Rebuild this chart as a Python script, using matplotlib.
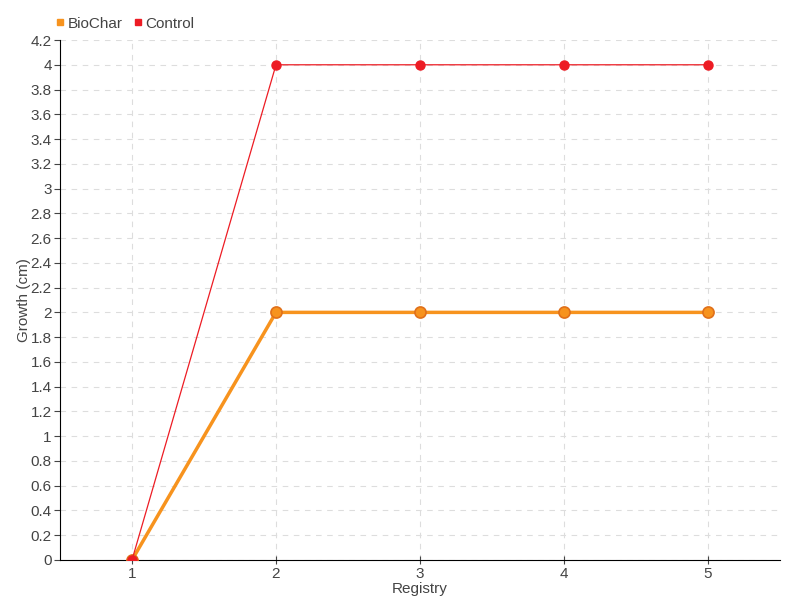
import matplotlib
matplotlib.use("Agg")
from matplotlib import pyplot as plt
from matplotlib.lines import Line2D

plt.rcParams['font.family'] = ['Liberation Sans', 'DejaVu Sans']

registry = [1, 2, 3, 4, 5]
biochar = [0, 2, 2, 2, 2]
control = [0, 4, 4, 4, 4]
yticks = [0, 0.2, 0.4, 0.6, 0.8, 1, 1.2, 1.4, 1.6, 1.8, 2, 2.2, 2.4, 2.6, 2.8,
          3, 3.2, 3.4, 3.6, 3.8, 4, 4.2]

orange = '#f7931e'
red = '#ed1c24'

fig = plt.figure(figsize=(8, 6), dpi=100)
ax = fig.add_axes([0.075, 0.0667, 0.9, 0.8666])

ax.plot(registry, biochar, '-', color=orange, lw=2.5, marker='o', ms=8,
        mfc=orange, mec='#e0701a', mew=1.2, zorder=3)
ax.plot(registry, control, '-', color=red, lw=0.9, marker='o', ms=6.5,
        mfc=red, mec=red, zorder=4)

ax.set_xlim(0.5, 5.5)
ax.set_ylim(0, 4.2)
ax.set_xticks(registry)
ax.set_yticks(yticks)
ax.set_yticklabels([('%g' % v) for v in yticks])
ax.grid(True, ls=(0, (5, 5)), color='#dddddd', lw=0.8)
ax.set_axisbelow(True)
for s in ['top', 'right']:
    ax.spines[s].set_visible(False)
ax.tick_params(colors='#444444', labelsize=11, length=4, pad=2)
ax.tick_params(axis='x', direction='inout', length=6)
ax.set_xlabel('Registry', color='#444444', fontsize=11, labelpad=0.5)
ax.set_ylabel('Growth (cm)', color='#444444', fontsize=11, labelpad=0)

handles = [Line2D([], [], ls='', marker='s', ms=5, color=orange),
           Line2D([], [], ls='', marker='s', ms=5, color=red)]
fig.legend(handles, ['BioChar', 'Control'], loc='upper left',
           bbox_to_anchor=(0.05, 0.995), ncol=2, frameon=False,
           handletextpad=0.1, columnspacing=0.6, fontsize=11,
           labelcolor='#444444', handlelength=0.8)

fig.savefig('out.png')
